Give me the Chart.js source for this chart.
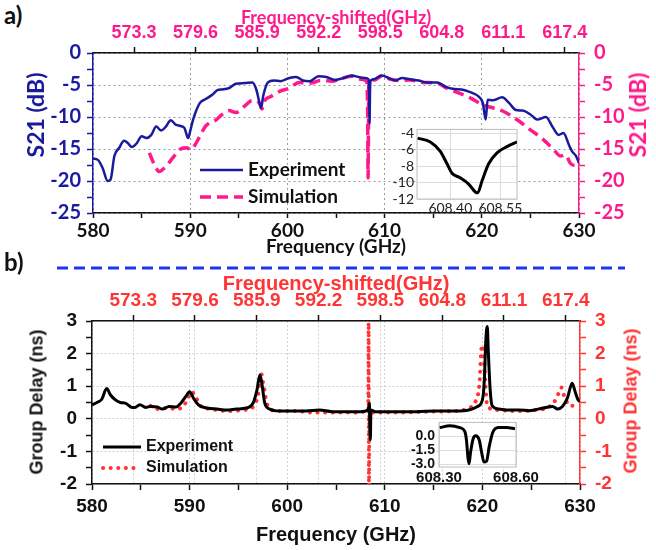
<!DOCTYPE html>
<html lang="en">
<head>
<meta charset="UTF-8">
<title>S21 and group delay</title>
<script src="https://cdn.jsdelivr.net/npm/chart.js@4.4.1/dist/chart.umd.min.js"></script>
<style>
    body { margin: 0; background: #fff; }
    #page { position: relative; width: 656px; height: 550px; overflow: hidden; background: #fff; }
    #page canvas, #page svg { position: absolute; }
    .tag { position: absolute; font: bold 24px Lato, sans-serif; color: #111; }
    .vtitle { position: absolute; white-space: nowrap; font-weight: bold; transform: translate(-50%, -50%) rotate(-90deg); }
</style>
</head>
<body>
<div id="page">
    <div class="tag" style="left:4px;top:0px">a)</div>
    <canvas id="chartA" width="656" height="258" style="left:0;top:0"></canvas>
    <canvas id="insetA" width="150" height="104" style="left:380px;top:118px"></canvas>
    <div class="vtitle" style="left:35px;top:115px;color:#1a1a9e;font-family:Lato;font-size:23px">S21 (dB)</div>
    <div class="vtitle" style="left:637px;top:115px;color:#ff1a8c;font-family:Lato;font-size:23px">S21 (dB)</div>

    <svg width="656" height="10" style="left:0;top:263px">
        <line x1="57" y1="5" x2="625" y2="5" stroke="#1f35f0" stroke-width="3" stroke-dasharray="11 6"/>
    </svg>

    <div class="tag" style="left:4px;top:247px">b)</div>
    <canvas id="chartB" width="656" height="280" style="left:0;top:270px"></canvas>
    <canvas id="insetB" width="152" height="80" style="left:392px;top:410px"></canvas>
    <div class="vtitle" style="left:37px;top:402px;color:#111;font-family:'Liberation Sans';font-size:18px">Group Delay (ns)</div>
    <div class="vtitle" style="left:631px;top:401px;color:#ff3030;font-family:'Liberation Sans';font-size:18px">Group Delay (ns)</div>
</div>

<script>
    // ---- data ----
    const freqTicks = [580, 590, 600, 610, 620, 630];
    const shiftedTicks = [573.3, 579.6, 585.9, 592.2, 598.5, 604.8, 611.1, 617.4];
    const s21Ticks = [-25, -20, -15, -10, -5, 0];
    const delayTicks = [-2, -1, 0, 1, 2, 3];
    const insetS21Ticks = [-12, -10, -8, -6, -4];
    const insetS21FreqTicks = [608.40, 608.55];
    const insetDelayTicks = [-3, -1.5, 0];
    const insetDelayFreqTicks = [608.30, 608.60];

    // [frequency GHz, S21 dB]
    const s21Experiment = [
        [580, -16.5], [580.5, -16.7], [581, -18.0], [581.5, -20.0], [581.8, -19.8], [582.2, -16.1],
        [582.7, -14.8], [583.2, -13.7], [583.6, -14.1], [584.0, -14.7], [584.5, -14.1], [585.0, -13.0],
        [585.5, -13.3], [586.0, -12.8], [586.5, -11.5], [587.0, -12.1], [587.5, -11.5], [588.0, -10.5],
        [588.5, -11.2], [589.0, -11.4], [589.4, -11.7], [589.8, -13.3], [590.0, -12.2], [590.3, -10.4],
        [591.0, -7.8], [591.6, -7.2], [592.3, -6.5], [592.8, -5.8], [593.3, -5.7], [594.0, -5.5],
        [594.7, -4.8], [595.6, -4.7], [596.4, -4.6], [596.8, -5.7], [597.1, -7.6], [597.3, -8.6],
        [597.5, -6.8], [598.0, -4.6], [598.6, -4.3], [599.3, -4.4], [600.2, -3.9], [600.9, -3.75],
        [601.6, -4.3], [602.3, -4.4], [603.2, -3.65], [604.0, -3.75], [604.9, -4.2], [605.8, -3.9],
        [606.6, -3.5], [607.4, -3.8], [608.0, -3.9], [608.35, -4.1], [608.41, -6.5], [608.45, -11.0],
        [608.5, -6.0], [608.58, -4.3], [608.9, -4.1], [609.7, -3.5], [610.4, -3.9], [611.1, -4.3],
        [611.8, -3.9], [612.6, -4.1], [613.5, -4.3], [614.3, -4.6], [615.4, -4.6], [616.2, -5.2],
        [617.0, -5.6], [617.9, -5.7], [618.6, -6.0], [619.8, -7.0], [620.1, -7.8], [620.4, -10.4],
        [620.6, -7.3], [621.1, -7.4], [622.1, -6.9], [622.8, -7.8], [623.5, -8.9], [624.2, -9.0],
        [625.0, -9.6], [625.7, -10.4], [626.6, -10.0], [627.3, -11.6], [627.9, -12.8], [628.4, -12.5],
        [629.0, -14.5], [629.3, -15.4], [629.7, -16.1], [630.0, -17.2]
    ];
    const s21Simulation = [
        [585.8, -15.6], [586.3, -17.4], [586.8, -18.5], [587.5, -17.7], [588.2, -16.4], [588.9, -15.1],
        [589.6, -14.8], [590.1, -15.1], [590.4, -14.6], [591.0, -13.0], [591.6, -11.4], [592.7, -10.4],
        [593.3, -9.6], [594.0, -9.0], [594.7, -9.3], [595.6, -8.3], [596.4, -7.4], [597.1, -7.8],
        [597.4, -8.75], [597.6, -7.6], [598.3, -6.8], [599.2, -6.0], [600.2, -5.5], [601.2, -4.6],
        [602.4, -4.7], [603.4, -4.3], [604.6, -4.4], [605.7, -3.9], [606.7, -3.65], [607.6, -4.1],
        [608.15, -4.4], [608.25, -8.3], [608.3, -19.5], [608.38, -4.7], [609.0, -4.2], [609.7, -3.6],
        [610.6, -4.1], [611.6, -4.3], [612.6, -4.2], [614.0, -4.6], [615.4, -4.7], [616.4, -5.5],
        [617.4, -6.1], [618.8, -7.0], [620.1, -8.1], [621.2, -8.6], [622.2, -9.1], [623.6, -10.4],
        [625.0, -12.0], [626.3, -13.5], [627.4, -15.1], [628.1, -16.1], [628.6, -15.9], [629.1, -17.2],
        [629.6, -17.6], [629.9, -17.0]
    ];
    const s21InsetExperiment = [
        [608.302, -4.57], [608.34, -5.03], [608.37, -6.18], [608.39, -7.7], [608.405, -8.85],
        [608.43, -9.42], [608.455, -10.18], [608.475, -11.14], [608.482, -11.25], [608.495, -9.8],
        [608.515, -7.7], [608.54, -6.37], [608.57, -5.6], [608.60, -5.03]
    ];

    // [frequency GHz, group delay ns]
    const delayExperiment = [
        [580, 0.43], [580.5, 0.5], [581.0, 0.6], [581.5, 0.93], [581.9, 0.73], [582.4, 0.58],
        [582.9, 0.5], [583.4, 0.48], [584.1, 0.35], [584.4, 0.35], [584.9, 0.43], [585.5, 0.35],
        [586.0, 0.38], [586.7, 0.36], [587.2, 0.3], [587.9, 0.38], [588.6, 0.36], [589.1, 0.48],
        [589.6, 0.68], [590.0, 0.83], [590.4, 0.63], [590.9, 0.43], [591.8, 0.33], [592.8, 0.3],
        [593.8, 0.27], [594.8, 0.3], [595.8, 0.33], [596.5, 0.48], [596.9, 0.88], [597.2, 1.34],
        [597.4, 1.09], [597.7, 0.48], [598.2, 0.3], [599.2, 0.24], [600.6, 0.24], [601.9, 0.24],
        [603.3, 0.27], [604.6, 0.22], [606.0, 0.22], [607.5, 0.22], [608.3, 0.27], [608.42, 0.48],
        [608.47, -0.23], [608.52, -0.64], [608.58, 0.27], [609.0, 0.22], [611.1, 0.22], [613.2, 0.22],
        [615.2, 0.24], [617.3, 0.24], [618.6, 0.27], [619.5, 0.38], [620.0, 0.58], [620.2, 1.19],
        [620.35, 2.4], [620.5, 2.83], [620.6, 2.1], [620.8, 0.88], [621.0, 0.4], [621.7, 0.3],
        [622.7, 0.27], [623.8, 0.27], [624.8, 0.25], [626.2, 0.33], [627.2, 0.38], [627.7, 0.3],
        [628.2, 0.38], [628.7, 0.63], [629.2, 1.09], [629.5, 0.83], [629.8, 0.58], [630.0, 0.53]
    ];
    const delaySimulation = [
        [586.0, 0.4], [586.7, 0.3], [587.7, 0.33], [588.7, 0.3], [589.4, 0.4], [589.9, 0.68],
        [590.2, 0.83], [590.6, 0.68], [591.1, 0.4], [592.2, 0.3], [593.9, 0.24], [595.6, 0.27],
        [596.6, 0.4], [597.1, 0.88], [597.3, 1.41], [597.6, 0.98], [598.0, 0.4], [599.0, 0.24],
        [600.7, 0.24], [602.7, 0.19], [604.8, 0.19], [606.8, 0.19], [608.2, 0.22], [608.3, 0.3],
        [608.34, 2.95], [608.38, -2.3], [608.42, 0.2], [609.0, 0.19], [611.1, 0.19], [614.5, 0.22],
        [617.3, 0.24], [618.6, 0.33], [619.3, 0.53], [619.7, 1.09], [619.9, 2.15], [620.1, 2.25],
        [620.3, 1.09], [620.5, 0.4], [621.4, 0.27], [623.4, 0.24], [625.5, 0.27], [626.9, 0.38],
        [627.6, 0.63], [628.1, 0.96], [628.4, 0.68], [629.0, 0.4], [629.6, 0.4]
    ];
    const delayInsetExperiment = [
        [608.303, 0.94], [608.342, 1.13], [608.381, 0.94], [608.40, 0.55], [608.407, -0.42],
        [608.413, -2.35], [608.417, -2.94], [608.423, -1.71], [608.433, -0.26], [608.443, 0.06],
        [608.457, -0.42], [608.466, -1.71], [608.475, -2.77], [608.485, -2.68], [608.496, -1.06],
        [608.509, 0.39], [608.531, 0.94], [608.563, 0.94], [608.596, 0.81]
    ];

    // ---- colours / fonts ----
    const NAVY = '#1a1a9e';
    const PINK = '#ff1a8c';
    const RED = '#ff3535';
    const lato = (size, weight = 'bold') => ({ family: 'Lato', weight: weight, size: size });
    const arial = (size) => ({ family: '"Liberation Sans", Arial', weight: 'bold', size: size });
    const narrow = (size) => ({ family: '"Liberation Sans Narrow", "Arial Narrow", "Liberation Sans"', weight: 'bold', size: size });

    const withMinor = (majors) => {
        const out = [];
        majors.forEach((v, i) => {
            out.push(v);
            if (i < majors.length - 1) out.push((v + majors[i + 1]) / 2);
        });
        return out;
    };

    // one axis with fixed size, explicit tick list and optional minor ticks
    const makeAxis = (c) => {
        const majors = c.ticks;
        const values = (c.minor ? withMinor(majors) : majors.slice()).sort((a, b) => a - b);
        return {
            type: 'linear',
            position: c.position,
            min: c.min,
            max: c.max,
            afterBuildTicks: (scale) => { scale.ticks = values.map(v => ({ value: v })); },
            afterFit: (scale) => {
                if (scale.isHorizontal()) scale.height = c.size;
                else scale.width = c.size;
            },
            border: { display: c.border !== false, color: c.axisColor, width: 1.5, dash: c.dash || [] },
            grid: {
                drawOnChartArea: !!c.grid,
                drawTicks: (c.tickLen || 0) > 0,
                tickLength: c.tickLen || 0,
                tickColor: c.axisColor,
                tickWidth: 1.5,
                lineWidth: 1,
                color: (ctx) => (c.grid && ctx.tick && majors.includes(ctx.tick.value)) ? c.grid : 'rgba(0,0,0,0)'
            },
            ticks: {
                autoSkip: false,
                maxRotation: 0,
                padding: c.pad,
                color: c.labelColor,
                font: c.font,
                callback: (v) => majors.includes(v) ? c.fmt(v) : ''
            },
            title: c.title
                ? { display: true, text: c.title, color: c.titleColor, font: c.titleFont, padding: c.titlePad }
                : { display: false }
        };
    };

    const insideLegend = {
        id: 'insideLegend',
        afterDatasetsDraw(chart, args, o) {
            const ctx = chart.ctx;
            chart.data.datasets.forEach((ds, i) => {
                const y = o.y + i * o.gap;
                ctx.save();
                ctx.strokeStyle = ds.borderColor;
                ctx.lineWidth = ds.borderWidth;
                ctx.lineCap = ds.borderCapStyle || 'butt';
                ctx.setLineDash(ds.borderDash || []);
                ctx.beginPath();
                ctx.moveTo(o.x, y);
                ctx.lineTo(o.x + o.len, y);
                ctx.stroke();
                ctx.setLineDash([]);
                ctx.fillStyle = '#111';
                ctx.font = o.font;
                ctx.textBaseline = 'middle';
                ctx.fillText(ds.label, o.x + o.len + o.space, y);
                ctx.restore();
            });
        }
    };

    const insetFrame = {
        id: 'insetFrame',
        beforeDraw(chart) {
            const { left, top, width, height } = chart.chartArea;
            chart.ctx.save();
            chart.ctx.fillStyle = '#fff';
            chart.ctx.fillRect(left, top, width, height);
            chart.ctx.restore();
        },
        beforeDatasetsDraw(chart) {
            const { left, top, width, height } = chart.chartArea;
            chart.ctx.save();
            chart.ctx.strokeStyle = '#bdbdbd';
            chart.ctx.lineWidth = 1;
            chart.ctx.strokeRect(left, top, width, height);
            chart.ctx.restore();
        }
    };

    const base = { responsive: false, animation: false, devicePixelRatio: 1, events: [] };
    const intFmt = v => String(v);

    // ---------------- panel a ----------------
    new Chart(document.getElementById('chartA'), {
        type: 'line',
        data: {
            datasets: [
                { label: 'Experiment', data: s21Experiment, borderColor: NAVY, borderWidth: 2.5, pointRadius: 0, cubicInterpolationMode: 'monotone', xAxisID: 'x', yAxisID: 'y' },
                { label: 'Simulation', data: s21Simulation, borderColor: PINK, borderWidth: 3.5, borderDash: [11, 6], pointRadius: 0, cubicInterpolationMode: 'monotone', xAxisID: 'x', yAxisID: 'y' }
            ]
        },
        options: {
            ...base,
            layout: { padding: 0 },
            plugins: {
                legend: { display: false },
                tooltip: { enabled: false },
                insideLegend: { x: 200, y: 170, gap: 27, len: 43, space: 5, font: 'bold 19px Lato' }
            },
            scales: {
                x: makeAxis({ position: 'bottom', min: 580, max: 630, ticks: freqTicks, minor: true, size: 45, tickLen: 5, pad: 1,
                    axisColor: '#111', labelColor: '#111', font: lato(19), fmt: intFmt, grid: '#9a9a9a', dash: [2, 3],
                    title: 'Frequency (GHz)', titleColor: '#111', titleFont: lato(19), titlePad: { top: 0, bottom: 0 } }),
                xTop: makeAxis({ position: 'top', min: 569.1, max: 618.85, ticks: shiftedTicks, size: 53, tickLen: 6, pad: 3,
                    axisColor: '#111', labelColor: PINK, font: narrow(18), fmt: v => v.toFixed(1),
                    title: 'Frequency-shifted(GHz)', titleColor: PINK, titleFont: lato(18), titlePad: { top: 7, bottom: 0 } }),
                y: makeAxis({ position: 'left', min: -25, max: 0, ticks: s21Ticks, minor: true, size: 93, tickLen: 6, pad: 6,
                    axisColor: NAVY, labelColor: NAVY, font: lato(20), fmt: intFmt, grid: '#9a9a9a', dash: [2, 3] }),
                yRight: makeAxis({ position: 'right', min: -25, max: 0, ticks: s21Ticks, minor: true, size: 77, tickLen: 6, pad: 9,
                    axisColor: PINK, labelColor: PINK, font: lato(20), fmt: intFmt })
            }
        },
        plugins: [insideLegend]
    });

    new Chart(document.getElementById('insetA'), {
        type: 'line',
        data: {
            datasets: [
                { label: 'Experiment', data: s21InsetExperiment, borderColor: '#000', borderWidth: 3, pointRadius: 0, cubicInterpolationMode: 'monotone' }
            ]
        },
        options: {
            ...base,
            layout: { padding: { top: 7, right: 13, left: 0, bottom: 0 } },
            plugins: { legend: { display: false }, tooltip: { enabled: false } },
            scales: {
                x: makeAxis({ position: 'bottom', min: 608.30, max: 608.60, ticks: insetS21FreqTicks, size: 23, pad: 1, border: false,
                    axisColor: '#bdbdbd', labelColor: '#222', font: lato(14, 'normal'), fmt: v => v.toFixed(2), grid: '#dcdcdc' }),
                y: makeAxis({ position: 'left', min: -12, max: -3.5, ticks: insetS21Ticks, size: 37, pad: 3, border: false,
                    axisColor: '#bdbdbd', labelColor: '#222', font: lato(14, 'normal'), fmt: intFmt, grid: '#dcdcdc' })
            }
        },
        plugins: [insetFrame]
    });

    // ---------------- panel b ----------------
    new Chart(document.getElementById('chartB'), {
        type: 'line',
        data: {
            datasets: [
                { label: 'Experiment', data: delayExperiment, borderColor: '#000', borderWidth: 3, pointRadius: 0, cubicInterpolationMode: 'monotone', xAxisID: 'x', yAxisID: 'y' },
                { label: 'Simulation', data: delaySimulation, borderColor: RED, borderWidth: 4, borderDash: [0.1, 7.5], borderCapStyle: 'round', pointRadius: 0, cubicInterpolationMode: 'monotone', xAxisID: 'x', yAxisID: 'y' }
            ]
        },
        options: {
            ...base,
            layout: { padding: 0 },
            plugins: {
                legend: { display: false },
                tooltip: { enabled: false },
                insideLegend: { x: 103, y: 177, gap: 21, len: 38, space: 5, font: 'bold 16px "Liberation Sans"' }
            },
            scales: {
                x: makeAxis({ position: 'bottom', min: 580, max: 630, ticks: freqTicks, minor: true, size: 66, tickLen: 6, pad: 5,
                    axisColor: '#111', labelColor: '#111', font: arial(19), fmt: intFmt, grid: '#cfcfcf', dash: [2, 2],
                    title: 'Frequency (GHz)', titleColor: '#111', titleFont: arial(20), titlePad: { top: 0, bottom: 3 } }),
                xTop: makeAxis({ position: 'top', min: 569.1, max: 618.85, ticks: shiftedTicks, size: 51, tickLen: 6, pad: 3,
                    axisColor: '#111', labelColor: RED, font: narrow(19), fmt: v => v.toFixed(1), grid: '#cfcfcf', dash: [2, 2],
                    title: 'Frequency-shifted(GHz)', titleColor: RED, titleFont: narrow(20), titlePad: { top: 2, bottom: 0 } }),
                y: makeAxis({ position: 'left', min: -2, max: 3, ticks: delayTicks, minor: true, size: 92, tickLen: 6, pad: 9,
                    axisColor: '#111', labelColor: '#111', font: arial(19), fmt: intFmt, grid: '#cfcfcf', dash: [2, 2] }),
                yRight: makeAxis({ position: 'right', min: -2, max: 3, ticks: delayTicks, minor: true, size: 76, tickLen: 6, pad: 9,
                    axisColor: RED, labelColor: RED, font: arial(19), fmt: intFmt })
            }
        },
        plugins: [insideLegend]
    });

    new Chart(document.getElementById('insetB'), {
        type: 'line',
        data: {
            datasets: [
                { label: 'Experiment', data: delayInsetExperiment, borderColor: '#000', borderWidth: 3, pointRadius: 0, cubicInterpolationMode: 'monotone' }
            ]
        },
        options: {
            ...base,
            layout: { padding: { top: 7, right: 28, left: 0, bottom: 0 } },
            plugins: { legend: { display: false }, tooltip: { enabled: false } },
            scales: {
                x: makeAxis({ position: 'bottom', min: 608.30, max: 608.60, ticks: insetDelayFreqTicks, size: 23, pad: 2, border: false,
                    axisColor: '#bdbdbd', labelColor: '#111', font: arial(15), fmt: v => v.toFixed(2), grid: '#dcdcdc' }),
                y: makeAxis({ position: 'left', min: -3.3, max: 1.5, ticks: insetDelayTicks, size: 47, pad: 4, border: false,
                    axisColor: '#bdbdbd', labelColor: '#111', font: arial(14), fmt: v => v.toFixed(1), grid: '#dcdcdc' })
            }
        },
        plugins: [insetFrame]
    });
</script>
</body>
</html>
